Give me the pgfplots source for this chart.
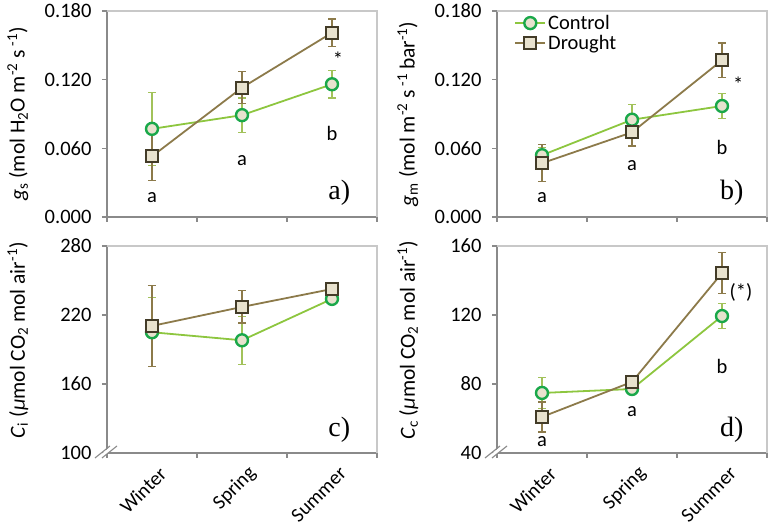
\documentclass[border=0pt]{standalone}
\usepackage{pgfplots}
\pgfplotsset{compat=1.18}
\usepackage{fontspec}
\setmainfont{Carlito}
\newfontfamily\tnr{Liberation Serif}
\definecolor{ctrlline}{HTML}{8DC63F}
\definecolor{ctrledge}{HTML}{1AA84A}
\definecolor{ctrlerr}{HTML}{A2C25A}
\definecolor{mfill}{HTML}{E8E2CE}
\definecolor{drline}{HTML}{8C7A4A}
\definecolor{dredge}{HTML}{433C28}
\definecolor{drerr}{HTML}{8C7A4A}
\definecolor{axgray}{HTML}{8A8A8A}
\definecolor{frgray}{HTML}{C8C8C8}

\pgfplotstableread{
x y e
0.5 0.077 0.032
1.5 0.089 0.015
2.5 0.116 0.012
}\aCtrl
\pgfplotstableread{
x y e
0.5 0.053 0.021
1.5 0.113 0.014
2.5 0.161 0.012
}\aDr
\pgfplotstableread{
x y e
0.5 0.054 0.007
1.5 0.085 0.013
2.5 0.097 0.011
}\bCtrl
\pgfplotstableread{
x y e
0.5 0.047 0.016
1.5 0.074 0.012
2.5 0.137 0.015
}\bDr
\pgfplotstableread{
x y e
0.5 205 30
1.5 198 21
2.5 234 5
}\cCtrl
\pgfplotstableread{
x y e
0.5 210.5 35
1.5 227 14
2.5 242.6 3
}\cDr
\pgfplotstableread{
x y e
0.5 74.8 9
1.5 77.1 2
2.5 119.4 7.3
}\dCtrl
\pgfplotstableread{
x y e
0.5 60.9 8.7
1.5 81.2 3
2.5 144.3 12
}\dDr

\newcommand{\fs}{\fontsize{20.5}{24}\selectfont}
\newcommand{\fx}{\fontsize{20}{24}\selectfont}
\newcommand{\fl}{\fontsize{21.5}{25}\selectfont}
\pgfplotsset{
  panel/.style={
    scale only axis, width=270pt, height=207pt,
    anchor=south west,
    xmin=0, xmax=3, xtick={0,1,2,3}, xticklabels={},
    axis lines=left, axis line style={-, draw=axgray, line width=1.1pt},
    tick align=outside, major tick length=5pt,
    tick style={draw=axgray, line width=1.1pt},
    clip=false,
    ticklabel style={font=\fs},
    yticklabel style={xshift=-7pt},
    /pgf/number format/assume math mode=true,
    label style={font=\fl},
    ylabel style={at={(rel axis cs:-0.33,0.5)}, anchor=center},
    legend cell align=left,
  },
  bottomx/.style={
    extra x ticks={0.5,1.5,2.5},
    extra x tick labels={Winter,Spring,Summer},
    extra x tick style={major tick length=0pt, tick label style={font=\fx, rotate=45, anchor=east, yshift=-20pt, xshift=-1pt}},
  },
  ctrl/.style={color=ctrlline, line width=1.8pt, mark=*, mark size=6pt,
    mark options={draw=ctrledge, fill=mfill, line width=2.4pt},
    error bars/.cd, y dir=both, y explicit,
    error bar style={draw=ctrlerr, line width=1.2pt},
    error mark options={draw=ctrlerr, line width=1.2pt, mark size=4pt, rotate=90}},
  dr/.style={color=drline, line width=1.8pt, mark=square*, mark size=6pt,
    mark options={draw=dredge, fill=mfill, line width=2.2pt},
    error bars/.cd, y dir=both, y explicit,
    error bar style={draw=drerr, line width=1.2pt},
    error mark options={draw=drerr, line width=1.2pt, mark size=4pt, rotate=90}},
}
\newcommand{\frameTR}{\draw[frgray, line width=1.1pt] (rel axis cs:0,1) -- (rel axis cs:1,1) -- (rel axis cs:1,0);}
\newcommand{\brk}{%
  \fill[white] (rel axis cs:0,0) ++(-9pt,-4pt) -- ++(13pt,11pt) -- ++(5pt,0pt) -- ++(-13pt,-11pt) -- cycle;
  \draw[axgray, line width=1.1pt] (rel axis cs:0,0) ++(-12pt,-5pt) -- ++(15pt,12pt);
  \draw[axgray, line width=1.1pt] (rel axis cs:0,0) ++(-5pt,-5pt) -- ++(15pt,12pt);}

\begin{document}
\begin{tikzpicture}
\path[use as bounding box] (0,0) rectangle (771pt,526pt);
% panel a
\begin{axis}[panel, at={(107pt,309pt)}, height=206pt,
  ymin=0, ymax=0.18, ytick={0,0.06,0.12,0.18},
  yticklabel style={/pgf/number format/.cd, fixed, fixed zerofill, precision=3},
  ylabel={\textit{g}\textsubscript{s} (mol H\textsubscript{2}O m\textsuperscript{-2} s\,\textsuperscript{-1})}]
\frameTR
\addplot+[ctrl] table[x=x,y=y,y error=e]{\aCtrl};
\addplot+[dr] table[x=x,y=y,y error=e]{\aDr};
\node[font=\fs] at (axis cs:0.5,0.0166) {a};
\node[font=\fs] at (axis cs:1.5,0.049) {a};
\node[font=\fs] at (axis cs:2.5,0.0734) {b};
\node[font=\fs] at (axis cs:2.567,0.138) {*};
\node[font=\tnr\fontsize{28}{30}\selectfont] at (axis cs:2.58,0.021) {a)};
\end{axis}
% panel b
\begin{axis}[panel, at={(497pt,309pt)}, height=206pt,
  ymin=0, ymax=0.18, ytick={0,0.06,0.12,0.18},
  yticklabel style={/pgf/number format/.cd, fixed, fixed zerofill, precision=3},
  ylabel={\textit{g}\textsubscript{m} (mol m\textsuperscript{-2} s\,\textsuperscript{-1}\,bar\textsuperscript{-1})},
  legend style={at={(0.06,0.995)}, anchor=north west, draw=none, fill=none, font=\fs, row sep=0pt, inner sep=1pt},
  legend image code/.code={\draw[mark repeat=2, mark phase=2] plot coordinates {(0pt,0pt) (15pt,0pt) (30pt,0pt)};}]
\frameTR
\addplot+[ctrl] table[x=x,y=y,y error=e]{\bCtrl};
\addlegendentry{Control}
\addplot+[dr] table[x=x,y=y,y error=e]{\bDr};
\addlegendentry{Drought}
\node[font=\fs] at (axis cs:0.5,0.0166) {a};
\node[font=\fs] at (axis cs:1.5,0.0446) {a};
\node[font=\fs] at (axis cs:2.5,0.061) {b};
\node[font=\fs] at (axis cs:2.68,0.116) {*};
\node[font=\tnr\fontsize{28}{30}\selectfont] at (axis cs:2.61,0.021) {b)};
\end{axis}
% panel c
\begin{axis}[panel, bottomx, at={(107pt,73pt)},
  ymin=100, ymax=280, ytick={100,160,220,280},
  ylabel style={at={(rel axis cs:-0.33,0.545)}},
  ylabel={\textit{C}\textsubscript{i} (\textit{μ}mol CO\textsubscript{2} mol air\textsuperscript{-1})}]
\frameTR
\addplot+[ctrl] table[x=x,y=y,y error=e]{\cCtrl};
\addplot+[dr] table[x=x,y=y,y error=e]{\cDr};
\node[font=\tnr\fontsize{28}{30}\selectfont] at (axis cs:2.58,120) {c)};
\brk
\end{axis}
% panel d
\begin{axis}[panel, bottomx, at={(497pt,73pt)},
  ymin=40, ymax=160, ytick={40,80,120,160},
  ylabel style={at={(rel axis cs:-0.33,0.545)}},
  ylabel={\textit{C}\textsubscript{c} (\textit{μ}mol CO\textsubscript{2} mol air\textsuperscript{-1})}]
\frameTR
\addplot+[ctrl] table[x=x,y=y,y error=e]{\dCtrl};
\addplot+[dr] table[x=x,y=y,y error=e]{\dDr};
\node[font=\fs] at (axis cs:0.5,46.4) {a};
\node[font=\fs] at (axis cs:1.5,63.8) {a};
\node[font=\fs] at (axis cs:2.5,90.4) {b};
\node[font=\fs] at (axis cs:2.71,132.8) {(*)};
\node[font=\tnr\fontsize{28}{30}\selectfont] at (axis cs:2.61,53.3) {d)};
\brk
\end{axis}
\end{tikzpicture}
\end{document}
